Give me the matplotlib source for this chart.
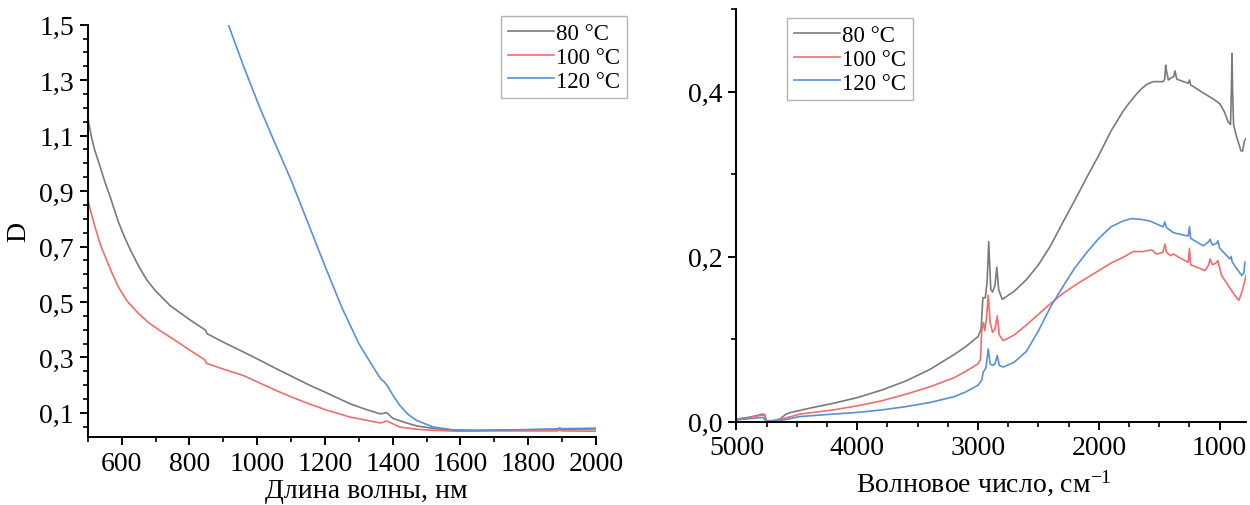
import matplotlib
matplotlib.use('Agg')
import matplotlib.pyplot as plt
from matplotlib.ticker import MultipleLocator, FuncFormatter
import numpy as np

plt.rcParams['font.family'] = ['Liberation Serif', 'DejaVu Serif']
plt.rcParams['mathtext.fontset'] = 'custom'
plt.rcParams['mathtext.rm'] = 'Liberation Serif'
plt.rcParams['mathtext.it'] = 'Liberation Serif:italic'

labels = ['80 °C', '100 °C', '120 °C']
colors = ['#7a7a7a', '#ee6e6e', '#5a8fd8']

# --- left panel: optical density vs wavelength, nm
wl_80 = [500, 510, 520, 536, 550, 566, 590, 610, 625, 650, 674, 700, 743, 800, 848, 852, 900,
         959, 1000, 1057, 1100, 1156, 1200, 1274, 1320, 1362, 1372, 1382, 1401, 1440, 1471,
         1520, 1569, 1650, 1800, 1885, 1892, 1900, 2000]
d_80 = [1.166, 1.10, 1.05, 0.99, 0.935, 0.88, 0.79, 0.73, 0.69, 0.63, 0.58, 0.54, 0.487, 0.437, 0.398, 0.386, 0.355,
        0.32, 0.295, 0.259, 0.233, 0.199, 0.175, 0.133, 0.113, 0.097, 0.098, 0.101, 0.080, 0.064, 0.053,
        0.044, 0.039, 0.037, 0.039, 0.041, 0.044, 0.041, 0.042]

wl_100 = [500, 508, 517, 530, 541, 566, 590, 615, 650, 680, 713, 760, 800, 846, 850, 900, 959,
          1000, 1050, 1100, 1150, 1200, 1274, 1362, 1372, 1382, 1421, 1470, 1520, 1590, 1700,
          1885, 1892, 1900, 2000]
d_100 = [0.872, 0.83, 0.79, 0.735, 0.695, 0.62, 0.555, 0.505, 0.458, 0.425, 0.397, 0.36, 0.327, 0.291, 0.279, 0.258, 0.235,
         0.212, 0.184, 0.158, 0.134, 0.112, 0.085, 0.064, 0.066, 0.071, 0.049, 0.041, 0.037, 0.034, 0.035,
         0.035, 0.038, 0.035, 0.034]

wl_120 = [915, 960, 1008, 1050, 1100, 1150, 1200, 1250, 1300, 1340, 1365, 1375, 1385, 1400,
          1421, 1445, 1470, 1520, 1589, 1600, 1700, 1800, 1885, 1892, 1900, 2000]
d_120 = [1.5, 1.35, 1.2, 1.08, 0.94, 0.785, 0.63, 0.48, 0.35, 0.27, 0.222, 0.212, 0.196, 0.165,
         0.127, 0.095, 0.073, 0.049, 0.037, 0.036, 0.038, 0.040, 0.042, 0.046, 0.043, 0.045]

# --- right panel: absorbance vs wavenumber, cm-1
wn_80 = [5000, 4900, 4780, 4765, 4755, 4700, 4640, 4590, 4549, 4400, 4200, 4000, 3800, 3600,
         3400, 3200, 3100, 3000, 2975, 2960, 2940, 2925, 2912, 2895, 2880, 2860, 2845, 2830,
         2800, 2700, 2600, 2500, 2400, 2300, 2200, 2100, 2000, 1900, 1800, 1750, 1700, 1650,
         1600, 1550, 1467, 1455, 1447, 1440, 1425, 1397, 1380, 1370, 1355, 1300, 1260, 1250,
         1240, 1122, 1053, 998, 960, 929, 910, 903, 898, 893, 885, 860, 823, 810, 795, 782]
a_80 = [0.003, 0.005, 0.009, 0.008, 0.001, 0.001, 0.003, 0.009, 0.011, 0.016, 0.022, 0.029, 0.038, 0.049,
        0.063, 0.081, 0.091, 0.103, 0.112, 0.150, 0.150, 0.170, 0.218, 0.160, 0.157, 0.165, 0.187, 0.160,
        0.148, 0.158, 0.172, 0.190, 0.213, 0.241, 0.268, 0.296, 0.323, 0.352, 0.376, 0.386, 0.395, 0.403,
        0.409, 0.412, 0.412, 0.415, 0.432, 0.425, 0.414, 0.417, 0.418, 0.425, 0.415, 0.412, 0.410, 0.414,
        0.408, 0.397, 0.391, 0.385, 0.375, 0.363, 0.360, 0.400, 0.446, 0.400, 0.360, 0.345, 0.328, 0.328,
        0.340, 0.343]

wn_100 = [5000, 4780, 4765, 4755, 4640, 4600, 4474, 4200, 4000, 3800, 3600, 3400, 3200, 3100,
          3000, 2980, 2970, 2955, 2945, 2930, 2916, 2900, 2880, 2860, 2841, 2825, 2791, 2700,
          2600, 2500, 2400, 2300, 2200, 2100, 2000, 1900, 1800, 1715, 1632, 1563, 1522, 1470,
          1453, 1440, 1406, 1384, 1300, 1260, 1250, 1240, 1122, 1090, 1080, 1060, 1032, 1015,
          984, 903, 860, 840, 810, 782]
a_100 = [0.002, 0.008, 0.007, 0.0, 0.002, 0.004, 0.009, 0.014, 0.019, 0.025, 0.033, 0.042, 0.053, 0.061,
         0.070, 0.075, 0.110, 0.120, 0.110, 0.125, 0.153, 0.120, 0.108, 0.112, 0.128, 0.105, 0.098, 0.105,
         0.117, 0.130, 0.143, 0.155, 0.165, 0.174, 0.183, 0.192, 0.199, 0.206, 0.206, 0.208, 0.203, 0.205,
         0.215, 0.205, 0.201, 0.203, 0.196, 0.193, 0.210, 0.190, 0.183, 0.190, 0.197, 0.190, 0.192, 0.195,
         0.177, 0.159, 0.150, 0.147, 0.160, 0.177]

wn_120 = [5000, 4780, 4755, 4640, 4474, 4200, 4000, 3800, 3600, 3400, 3200, 3100, 3000, 2970,
          2957, 2935, 2916, 2900, 2880, 2860, 2841, 2825, 2791, 2700, 2600, 2500, 2400, 2300,
          2200, 2100, 2000, 1900, 1800, 1729, 1650, 1577, 1500, 1467, 1455, 1440, 1384, 1300,
          1260, 1250, 1240, 1136, 1090, 1080, 1060, 1025, 1015, 1000, 915, 905, 895, 818, 800, 791]
a_120 = [0.002, 0.005, 0.0, 0.001, 0.006, 0.009, 0.011, 0.014, 0.018, 0.023, 0.030, 0.036, 0.044, 0.050,
         0.060, 0.065, 0.088, 0.070, 0.068, 0.070, 0.080, 0.068, 0.066, 0.072, 0.085, 0.110, 0.139, 0.163,
         0.186, 0.205, 0.222, 0.236, 0.243, 0.246, 0.245, 0.243, 0.238, 0.236, 0.242, 0.235, 0.229, 0.226,
         0.225, 0.236, 0.222, 0.213, 0.218, 0.221, 0.214, 0.216, 0.219, 0.210, 0.197, 0.200, 0.193, 0.177,
         0.180, 0.193]

left_xticks = [600, 800, 1000, 1200, 1400, 1600, 1800, 2000]
left_yticks = [0.1, 0.3, 0.5, 0.7, 0.9, 1.1, 1.3, 1.5]
right_xticks = [5000, 4000, 3000, 2000, 1000]
right_yticks = [0.0, 0.2, 0.4]

comma = FuncFormatter(lambda v, p: ('%.1f' % v).replace('.', ','))

fig = plt.figure(figsize=(12.5, 5.06), dpi=100)
ax1 = fig.add_axes([0.0702, 0.1338, 0.4066, 0.8154])
ax2 = fig.add_axes([0.5892, 0.1650, 0.4076, 0.8152])

for ax in (ax1, ax2):
    for s in ('top', 'right'):
        ax.spines[s].set_visible(False)
    for s in ('left', 'bottom'):
        ax.spines[s].set_linewidth(1.4)
    ax.tick_params(which='major', direction='out', length=6, width=1.4, labelsize=20, pad=4)
    ax.tick_params(which='minor', direction='out', length=3.5, width=1.2)

# left
for x, y, c, l in zip([wl_80, wl_100, wl_120], [d_80, d_100, d_120], colors, labels):
    ax1.plot(x, y, color=c, lw=1.2, label=l)
ax1.set_xlim(500, 2000)
ax1.set_ylim(0.012, 1.5)
ax1.set_xticks(left_xticks)
ax1.xaxis.set_minor_locator(MultipleLocator(100))
ax1.set_yticks(left_yticks)
ax1.yaxis.set_minor_locator(MultipleLocator(0.05))
ax1.yaxis.set_major_formatter(comma)
ax1.set_xlabel('Длина волны, нм', fontsize=20)
ax1.xaxis.set_label_coords(0.548, -0.098)
ax1.set_ylabel('D', fontsize=20, labelpad=6)
leg1 = ax1.legend(loc='upper right', bbox_to_anchor=(627 / 1250, 1 - 17 / 506),
                  bbox_transform=fig.transFigure, fontsize=16.5, frameon=True, fancybox=False,
                  borderaxespad=0, handlelength=2.0, handletextpad=0.1, borderpad=0.3,
                  labelspacing=0.12)
leg1.get_frame().set_edgecolor('#a0a0a0')
leg1.get_frame().set_linewidth(1.0)

# right
for x, y, c, l in zip([wn_80, wn_100, wn_120], [a_80, a_100, a_120], colors, labels):
    ax2.plot(x, y, color=c, lw=1.2, label=l)
ax2.set_xlim(5000, 782)
ax2.set_ylim(0, 0.5)
ax2.set_xticks(right_xticks)
ax2.xaxis.set_minor_locator(MultipleLocator(250))
ax2.set_yticks(right_yticks)
ax2.yaxis.set_minor_locator(MultipleLocator(0.1))
ax2.yaxis.set_major_formatter(comma)
ax2.set_xlabel('Волновое число, см$^{-1}$', fontsize=20)
ax2.xaxis.set_label_coords(0.486, -0.11)
leg2 = ax2.legend(loc='upper left', bbox_to_anchor=(787 / 1250, 1 - 19 / 506),
                  bbox_transform=fig.transFigure, fontsize=16.5, frameon=True, fancybox=False,
                  borderaxespad=0, handlelength=2.0, handletextpad=0.1, borderpad=0.3,
                  labelspacing=0.12)
leg2.get_frame().set_edgecolor('#a0a0a0')
leg2.get_frame().set_linewidth(1.0)

fig.savefig('out.png', dpi=100)
